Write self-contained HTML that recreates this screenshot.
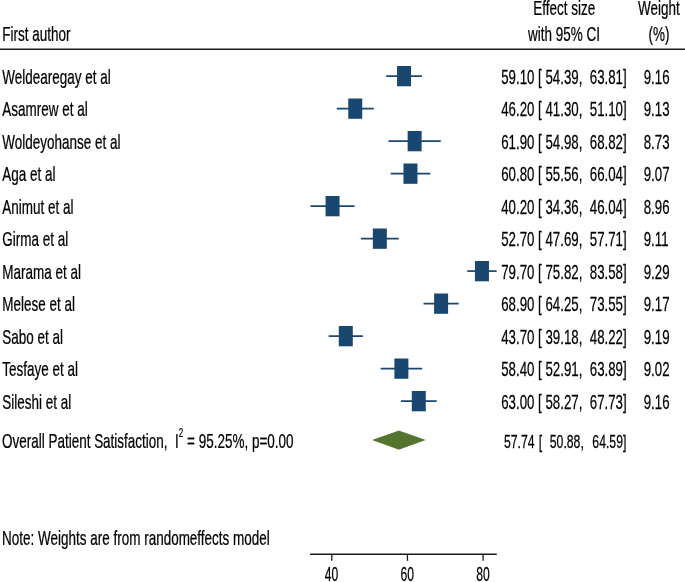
<!DOCTYPE html>
<html><head><meta charset="utf-8"><title>Forest plot</title>
<style>html,body{margin:0;padding:0;background:#fff}svg{display:block;will-change:transform}text{font-family:"Liberation Sans",sans-serif;fill:#000;stroke:#000;stroke-width:0.25px;white-space:pre}</style></head><body>
<svg width="685" height="582" viewBox="0 0 685 582">
<rect width="685" height="582" fill="#ffffff"/>
<text transform="translate(2.30,41.00) scale(0.668,1)" font-size="20.2" text-anchor="start" >First author</text>
<text transform="translate(564.30,14.80) scale(0.668,1)" font-size="20.2" text-anchor="middle" >Effect size</text>
<text transform="translate(564.00,40.80) scale(0.668,1)" font-size="20.2" text-anchor="middle" >with 95% CI</text>
<text transform="translate(658.90,14.80) scale(0.668,1)" font-size="20.2" text-anchor="middle" >Weight</text>
<text transform="translate(658.90,40.80) scale(0.668,1)" font-size="20.2" text-anchor="middle" >(%)</text>
<line x1="0" y1="49.2" x2="685" y2="49.2" stroke="#1a1a1a" stroke-width="1.6"/>
<text transform="translate(2.30,83.90) scale(0.668,1)" font-size="20.2" text-anchor="start" >Weldearegay et al</text>
<line x1="386.22" y1="76.10" x2="421.85" y2="76.10" stroke="#1a476f" stroke-width="1.7"/>
<rect x="397.04" y="66.00" width="14" height="20.3" fill="#1a476f"/>
<text transform="translate(501.20,83.90) scale(0.658,1)" font-size="20.2" text-anchor="start" xml:space="preserve">59.10 [ 54.39,  63.81]</text>
<text transform="translate(643.70,83.90) scale(0.658,1)" font-size="20.2" text-anchor="start" >9.16</text>
<text transform="translate(2.30,116.40) scale(0.668,1)" font-size="20.2" text-anchor="start" >Asamrew et al</text>
<line x1="336.72" y1="108.60" x2="373.78" y2="108.60" stroke="#1a476f" stroke-width="1.7"/>
<rect x="348.25" y="98.50" width="14" height="20.3" fill="#1a476f"/>
<text transform="translate(501.20,116.40) scale(0.658,1)" font-size="20.2" text-anchor="start" xml:space="preserve">46.20 [ 41.30,  51.10]</text>
<text transform="translate(643.70,116.40) scale(0.658,1)" font-size="20.2" text-anchor="start" >9.13</text>
<text transform="translate(2.30,148.90) scale(0.668,1)" font-size="20.2" text-anchor="start" >Woldeyohanse et al</text>
<line x1="388.45" y1="141.10" x2="440.80" y2="141.10" stroke="#1a476f" stroke-width="1.7"/>
<rect x="407.63" y="131.00" width="14" height="20.3" fill="#1a476f"/>
<text transform="translate(501.20,148.90) scale(0.658,1)" font-size="20.2" text-anchor="start" xml:space="preserve">61.90 [ 54.98,  68.82]</text>
<text transform="translate(643.70,148.90) scale(0.658,1)" font-size="20.2" text-anchor="start" >8.73</text>
<text transform="translate(2.30,181.40) scale(0.668,1)" font-size="20.2" text-anchor="start" >Aga et al</text>
<line x1="390.65" y1="173.60" x2="430.28" y2="173.60" stroke="#1a476f" stroke-width="1.7"/>
<rect x="403.47" y="163.50" width="14" height="20.3" fill="#1a476f"/>
<text transform="translate(501.20,181.40) scale(0.658,1)" font-size="20.2" text-anchor="start" xml:space="preserve">60.80 [ 55.56,  66.04]</text>
<text transform="translate(643.70,181.40) scale(0.658,1)" font-size="20.2" text-anchor="start" >9.07</text>
<text transform="translate(2.30,213.90) scale(0.668,1)" font-size="20.2" text-anchor="start" >Animut et al</text>
<line x1="310.47" y1="206.10" x2="354.64" y2="206.10" stroke="#1a476f" stroke-width="1.7"/>
<rect x="325.56" y="196.00" width="14" height="20.3" fill="#1a476f"/>
<text transform="translate(501.20,213.90) scale(0.658,1)" font-size="20.2" text-anchor="start" xml:space="preserve">40.20 [ 34.36,  46.04]</text>
<text transform="translate(643.70,213.90) scale(0.658,1)" font-size="20.2" text-anchor="start" >8.96</text>
<text transform="translate(2.30,246.40) scale(0.668,1)" font-size="20.2" text-anchor="start" >Girma et al</text>
<line x1="360.88" y1="238.60" x2="398.78" y2="238.60" stroke="#1a476f" stroke-width="1.7"/>
<rect x="372.83" y="228.50" width="14" height="20.3" fill="#1a476f"/>
<text transform="translate(501.20,246.40) scale(0.658,1)" font-size="20.2" text-anchor="start" xml:space="preserve">52.70 [ 47.69,  57.71]</text>
<text transform="translate(643.70,246.40) scale(0.658,1)" font-size="20.2" text-anchor="start" >9.11</text>
<text transform="translate(2.30,278.90) scale(0.668,1)" font-size="20.2" text-anchor="start" >Marama et al</text>
<line x1="467.27" y1="271.10" x2="496.62" y2="271.10" stroke="#1a476f" stroke-width="1.7"/>
<rect x="474.95" y="261.00" width="14" height="20.3" fill="#1a476f"/>
<text transform="translate(501.20,278.90) scale(0.658,1)" font-size="20.2" text-anchor="start" xml:space="preserve">79.70 [ 75.82,  83.58]</text>
<text transform="translate(643.70,278.90) scale(0.658,1)" font-size="20.2" text-anchor="start" >9.29</text>
<text transform="translate(2.30,311.40) scale(0.668,1)" font-size="20.2" text-anchor="start" >Melese et al</text>
<line x1="423.51" y1="303.60" x2="458.69" y2="303.60" stroke="#1a476f" stroke-width="1.7"/>
<rect x="434.10" y="293.50" width="14" height="20.3" fill="#1a476f"/>
<text transform="translate(501.20,311.40) scale(0.658,1)" font-size="20.2" text-anchor="start" xml:space="preserve">68.90 [ 64.25,  73.55]</text>
<text transform="translate(643.70,311.40) scale(0.658,1)" font-size="20.2" text-anchor="start" >9.17</text>
<text transform="translate(2.30,343.90) scale(0.668,1)" font-size="20.2" text-anchor="start" >Sabo et al</text>
<line x1="328.70" y1="336.10" x2="362.89" y2="336.10" stroke="#1a476f" stroke-width="1.7"/>
<rect x="338.79" y="326.00" width="14" height="20.3" fill="#1a476f"/>
<text transform="translate(501.20,343.90) scale(0.658,1)" font-size="20.2" text-anchor="start" xml:space="preserve">43.70 [ 39.18,  48.22]</text>
<text transform="translate(643.70,343.90) scale(0.658,1)" font-size="20.2" text-anchor="start" >9.19</text>
<text transform="translate(2.30,376.40) scale(0.668,1)" font-size="20.2" text-anchor="start" >Tesfaye et al</text>
<line x1="380.63" y1="368.60" x2="422.15" y2="368.60" stroke="#1a476f" stroke-width="1.7"/>
<rect x="394.39" y="358.50" width="14" height="20.3" fill="#1a476f"/>
<text transform="translate(501.20,376.40) scale(0.658,1)" font-size="20.2" text-anchor="start" xml:space="preserve">58.40 [ 52.91,  63.89]</text>
<text transform="translate(643.70,376.40) scale(0.658,1)" font-size="20.2" text-anchor="start" >9.02</text>
<text transform="translate(2.30,408.90) scale(0.668,1)" font-size="20.2" text-anchor="start" >Sileshi et al</text>
<line x1="400.90" y1="401.10" x2="436.67" y2="401.10" stroke="#1a476f" stroke-width="1.7"/>
<rect x="411.79" y="391.00" width="14" height="20.3" fill="#1a476f"/>
<text transform="translate(501.20,408.90) scale(0.658,1)" font-size="20.2" text-anchor="start" xml:space="preserve">63.00 [ 58.27,  67.73]</text>
<text transform="translate(643.70,408.90) scale(0.658,1)" font-size="20.2" text-anchor="start" >9.16</text>
<text transform="translate(2.00,447.80) scale(0.668,1)" font-size="20.2" text-anchor="start" xml:space="preserve">Overall Patient Satisfaction,  I<tspan font-size="12" dy="-10.6">2</tspan><tspan dy="10.6" dx="0.2"> = 95.25%, p=0.00</tspan></text>
<polygon points="372.05,440.1 398.29,430.8 399.49,430.8 425.70,440.1 399.49,449.5 398.29,449.5" fill="#55752f"/>
<text transform="translate(503.90,447.80) scale(0.658,1)" font-size="18.6" text-anchor="start" xml:space="preserve">57.74 <tspan dx="1.3">[  </tspan><tspan dx="1.3">50.88,  </tspan><tspan dx="2.6">64.59]</tspan></text>
<text transform="translate(2.10,545.00) scale(0.668,1)" font-size="20.2" text-anchor="start" >Note: Weights are from randomeffects model</text>
<line x1="310" y1="554.2" x2="496.8" y2="554.2" stroke="#1a1a1a" stroke-width="1.4"/>
<line x1="331.80" y1="554.2" x2="331.80" y2="560.8" stroke="#1a1a1a" stroke-width="1.3"/>
<text transform="translate(331.60,580.60) scale(0.615,1)" font-size="19.7" text-anchor="middle" >40</text>
<line x1="407.44" y1="554.2" x2="407.44" y2="560.8" stroke="#1a1a1a" stroke-width="1.3"/>
<text transform="translate(407.24,580.60) scale(0.615,1)" font-size="19.7" text-anchor="middle" >60</text>
<line x1="483.08" y1="554.2" x2="483.08" y2="560.8" stroke="#1a1a1a" stroke-width="1.3"/>
<text transform="translate(482.88,580.60) scale(0.615,1)" font-size="19.7" text-anchor="middle" >80</text>
</svg></body></html>
